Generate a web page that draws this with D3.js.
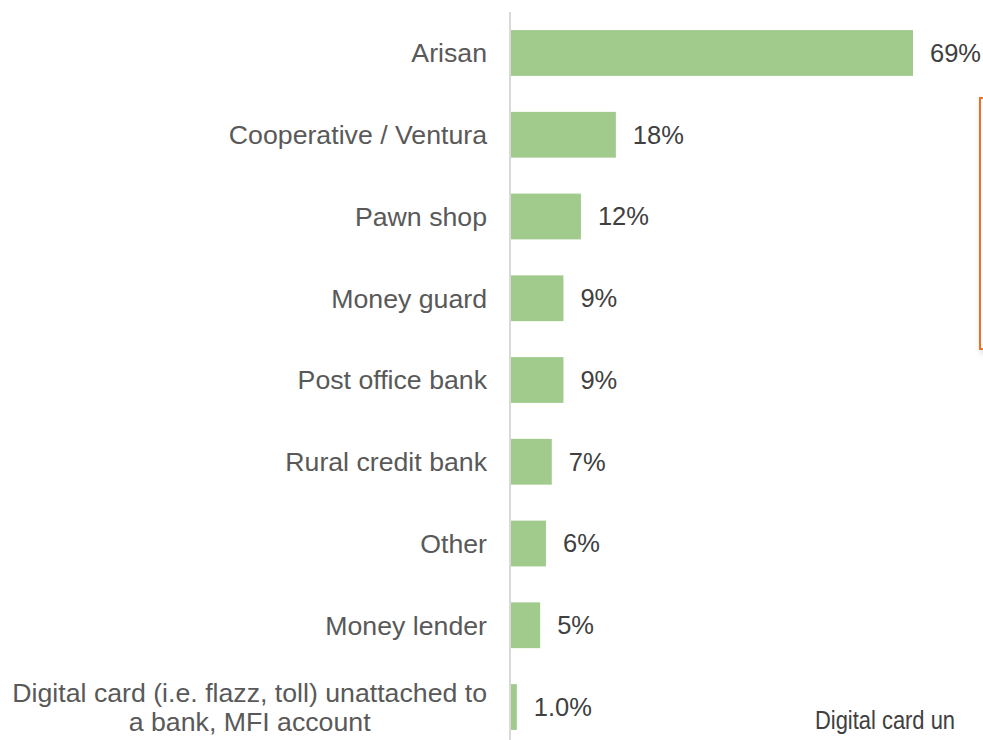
<!DOCTYPE html>
<html>
<head>
<meta charset="utf-8">
<script src="https://cdn.jsdelivr.net/npm/d3@7"></script>
<style>
  html, body { margin: 0; padding: 0; background: #fff; overflow: hidden; }
  svg { display: block; }
</style>
</head>
<body>
<svg id="chart" width="983" height="740"></svg>
<script>
// Savings channels used, share of respondents (%)
const categories = [
  "Arisan",
  "Cooperative / Ventura",
  "Pawn shop",
  "Money guard",
  "Post office bank",
  "Rural credit bank",
  "Other",
  "Money lender",
  "Digital card (i.e. flazz, toll) unattached to\na bank, MFI account"
];
const values = [69, 18, 12, 9, 9, 7, 6, 5, 1.0];
const valueLabels = ["69%", "18%", "12%", "9%", "9%", "7%", "6%", "5%", "1.0%"];

const svg = d3.select("#chart");
const fontFamily = "'Liberation Sans', Arial, sans-serif";
const catFontSize = 26.7;
const valFontSize = 25.5;

const x0 = 511;
const x = d3.scaleLinear().domain([0, 69]).range([x0, 913]);
const y = d3.scaleBand()
  .domain(categories)
  .range([12.1, 747.9])
  .paddingInner(0.44)
  .paddingOuter(0.22);

// Bars
svg.append("g").selectAll("rect")
  .data(values)
  .join("rect")
  .attr("x", x0)
  .attr("y", (d, i) => y(categories[i]))
  .attr("width", d => x(d) - x0)
  .attr("height", y.bandwidth())
  .attr("fill", "#A0CB8C");

// Vertical category axis line
svg.append("line")
  .attr("x1", 510).attr("x2", 510)
  .attr("y1", 12).attr("y2", 740)
  .attr("stroke", "#D9D9D9")
  .attr("stroke-width", 2);

// Value labels
svg.append("g").selectAll("text")
  .data(values)
  .join("text")
  .attr("x", d => x(d) + 17)
  .attr("y", (d, i) => y(categories[i]) + y.bandwidth() / 2)
  .attr("dy", "0.35em")
  .attr("font-family", fontFamily)
  .attr("font-size", valFontSize)
  .attr("fill", "#404040")
  .text((d, i) => valueLabels[i]);

// Category labels: single lines right-aligned, wrapped lines centred as a block
const labelRight = 487;
const lineH = 29;
const catG = svg.append("g");
categories.forEach(c => {
  const lines = c.split("\n");
  const cy = y(c) + y.bandwidth() / 2;
  if (lines.length === 1) {
    catG.append("text")
      .attr("x", labelRight).attr("y", cy).attr("dy", "0.35em")
      .attr("text-anchor", "end")
      .attr("font-family", fontFamily).attr("font-size", catFontSize)
      .attr("fill", "#595959")
      .text(c);
  } else {
    const texts = lines.map((l, k) => catG.append("text")
      .attr("y", cy + (k - (lines.length - 1) / 2) * lineH)
      .attr("dy", "0.35em")
      .attr("text-anchor", "middle")
      .attr("font-family", fontFamily).attr("font-size", catFontSize)
      .attr("fill", "#595959")
      .text(l));
    const maxW = d3.max(texts, t => t.node().getComputedTextLength());
    texts.forEach(t => t.attr("x", labelRight - maxW / 2));
  }
});

// Neighbouring callout box and label at the right edge
const defs = svg.append("defs");
const f = defs.append("filter").attr("id", "shadow").attr("x", "-20%").attr("y", "-5%").attr("width", "160%").attr("height", "115%");
f.append("feDropShadow").attr("dx", 2).attr("dy", 3).attr("stdDeviation", 3).attr("flood-color", "#000").attr("flood-opacity", 0.18);

svg.append("rect")
  .attr("x", 980).attr("y", 98)
  .attr("width", 40).attr("height", 251)
  .attr("fill", "#fff")
  .attr("stroke", "#F07022")
  .attr("stroke-width", 2)
  .attr("filter", "url(#shadow)");

svg.append("text")
  .attr("x", 815).attr("y", 720).attr("dy", "0.35em")
  .attr("font-family", fontFamily).attr("font-size", valFontSize)
  .attr("textLength", 140)
  .attr("lengthAdjust", "spacingAndGlyphs")
  .attr("fill", "#404040")
  .text("Digital card un");
</script>
</body>
</html>
